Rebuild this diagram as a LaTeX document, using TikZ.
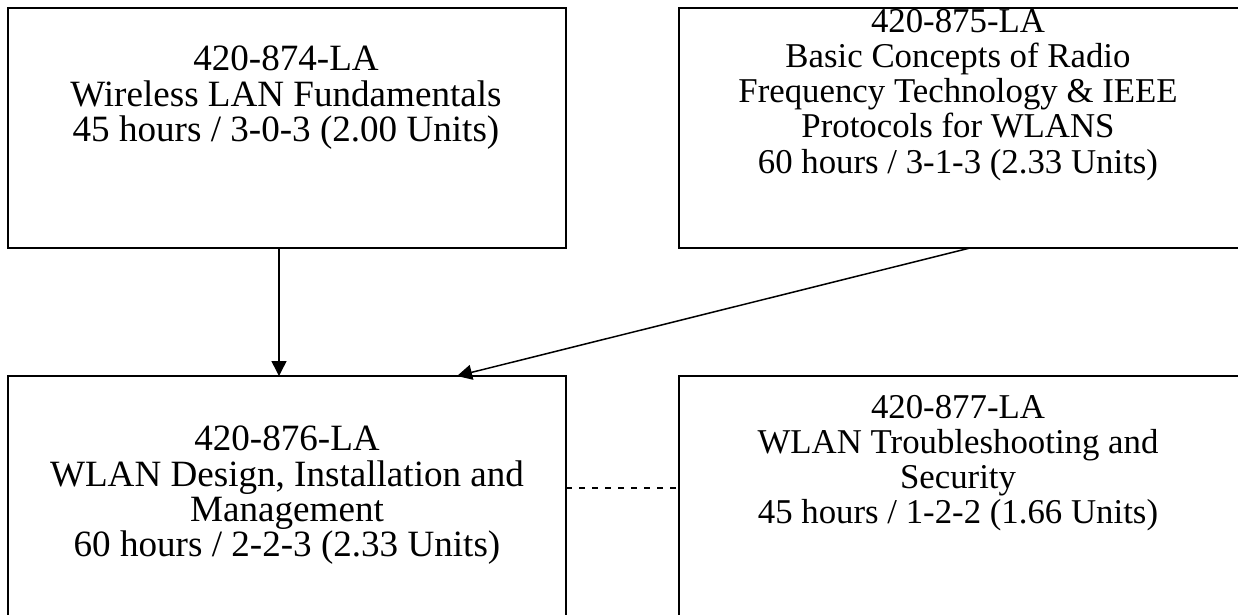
\documentclass[tikz,border=0pt]{standalone}
\usepackage{fontspec}
\setmainfont{Liberation Serif}
\usetikzlibrary{arrows.meta}
\begin{document}
\begin{tikzpicture}[x=1pt,y=-1pt,
  box/.style={draw=black,line width=1.6pt,rectangle,inner sep=0pt,outer sep=0pt,anchor=north west},
  boxtext/.style={inner sep=0pt,anchor=north,align=center,font=\fontsize{34.8}{35.2}\selectfont},
  bigtext/.style={boxtext,font=\fontsize{37.1}{35.2}\selectfont},
  arr/.style={draw=black,line width=1.5pt,-{Triangle[length=15pt,width=15pt]}},
  dashline/.style={draw=black,line width=1.3pt,dash pattern=on 6pt off 7pt}]
\useasboundingbox (0,0) rectangle (1238,614);
\clip (0,0) rectangle (1238,614);
\node[box,minimum width=558pt,minimum height=240pt] (b1) at (8,8) {};
\node[box,minimum width=562pt,minimum height=240pt] (b2) at (679,8) {};
\node[box,minimum width=558pt,minimum height=250pt] (b3) at (8,376) {};
\node[box,minimum width=562pt,minimum height=250pt] (b4) at (679,376) {};
\node[bigtext] (t1) at (286,46) {420-874-LA\\Wireless LAN Fundamentals\\45 hours / 3-0-3 (2.00 Units)};
\node[boxtext] (t2) at (958,9) {420-875-LA\\Basic Concepts of Radio\\Frequency Technology \& IEEE\\Protocols for WLANS\\60 hours / 3-1-3 (2.33 Units)};
\node[bigtext] (t3) at (287,426) {420-876-LA\\WLAN Design, Installation and\\Management\\60 hours / 2-2-3 (2.33 Units)};
\node[boxtext] (t4) at (958,395) {420-877-LA\\WLAN Troubleshooting and\\Security\\45 hours / 1-2-2 (1.66 Units)};
\draw[arr] ([xshift=271pt]b1.south west) -- ([xshift=271pt]b3.north west);
\draw[arr] ([xshift=291pt]b2.south west) -- ([xshift=449pt]b3.north west);
\draw[dashline] ([yshift=-112pt]b3.north east) -- ([yshift=-112pt]b4.north west);
\end{tikzpicture}
\end{document}
